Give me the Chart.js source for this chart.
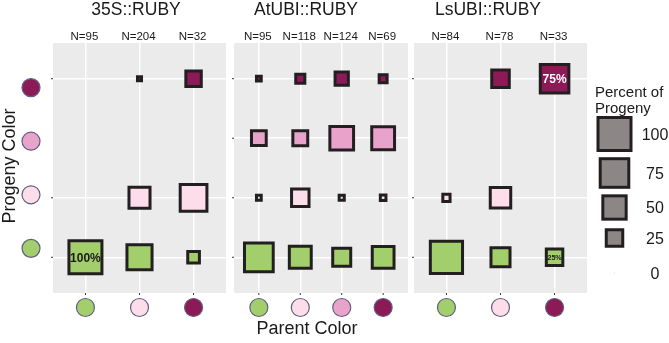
<!DOCTYPE html>
<html>
<head>
<meta charset="utf-8">
<script src="https://cdn.jsdelivr.net/npm/chart.js@4"></script>
<style>
	html, body { margin: 0; padding: 0; background: #fff; }
	#wrap { position: relative; width: 669px; height: 343px; overflow: hidden; }
	#wrap canvas { position: absolute; left: 0; top: 0; }
</style>
</head>
<body>
<div id="wrap">
	<canvas id="panel0" width="669" height="343"></canvas>
	<canvas id="panel1" width="669" height="343"></canvas>
	<canvas id="panel2" width="669" height="343"></canvas>
</div>
<script>
// Data
// Progeny colour levels, bottom row first
const progenyLevels = ['green', 'light pink', 'pink', 'dark red'];
const panelTitles = ['35S::RUBY', 'AtUBI::RUBY', 'LsUBI::RUBY'];

// 35S::RUBY
const parents35S = ['green', 'light pink', 'dark red'];
const n35S = [95, 204, 32];
const green35S = [100, 57.8, 12.5];
const lightPink35S = [0, 40.7, 65.6];
const pink35S = [0, 0, 0];
const darkRed35S = [0, 1.5, 21.9];

// AtUBI::RUBY
const parentsAt = ['green', 'light pink', 'pink', 'dark red'];
const nAt = [95, 118, 124, 69];
const greenAt = [75.8, 44.1, 29.8, 43.5];
const lightPinkAt = [2.1, 28.0, 2.4, 2.9];
const pinkAt = [20.0, 20.3, 51.6, 47.8];
const darkRedAt = [2.1, 7.6, 16.1, 5.8];

// LsUBI::RUBY
const parentsLs = ['green', 'light pink', 'dark red'];
const nLs = [84, 78, 33];
const greenLs = [95.2, 33.3, 25];
const lightPinkLs = [4.8, 38.5, 0];
const pinkLs = [0, 0, 0];
const darkRedLs = [0, 28.2, 75];

// Squares that carry a printed percentage: [panel, progeny level, parent column]
const labelled = [[0, 'green', 0], [2, 'dark red', 2], [2, 'green', 2]];

const legendValues = [100, 75, 50, 25, 0];

// Styles / layout
const FONT = '"Liberation Sans", Arial, Helvetica, sans-serif';
const levelFill = {
	'green': '#a2cf6b',
	'light pink': '#fcdde9',
	'pink': '#e8a3ca',
	'dark red': '#8c1a57'
};
const squareBorder = '#231f20';
const circleBorder = '#615f7f';
const panelBoxes = [
	{ left: 53, right: 226 },
	{ left: 234, right: 408 },
	{ left: 414, right: 587 }
];
const panelTop = 43;
const panelBottom = 293;
const titleCentres = [136, 306, 488];
const legendRows = [134, 173, 207.5, 238, 273];

const panels = [
	{ parents: parents35S, n: n35S, values: [green35S, lightPink35S, pink35S, darkRed35S] },
	{ parents: parentsAt, n: nAt, values: [greenAt, lightPinkAt, pinkAt, darkRedAt] },
	{ parents: parentsLs, n: nLs, values: [greenLs, lightPinkLs, pinkLs, darkRedLs] }
];

// Square side grows with the square root of the percentage (area scale)
function sideFor(p) {
	return 3.3 * Math.sqrt(p);
}

function text(ctx, str, x, y, font, color, align = 'center') {
	ctx.save();
	ctx.font = font;
	ctx.fillStyle = color;
	ctx.textAlign = align;
	ctx.textBaseline = 'alphabetic';
	ctx.fillText(str, x, y);
	ctx.restore();
}

function circle(ctx, x, y, fill) {
	ctx.save();
	ctx.beginPath();
	ctx.arc(x, y, 9, 0, Math.PI * 2);
	ctx.fillStyle = fill;
	ctx.fill();
	ctx.lineWidth = 1.2;
	ctx.strokeStyle = circleBorder;
	ctx.stroke();
	ctx.restore();
}

const decor = {
	id: 'decor',
	beforeDraw(chart) {
		const a = chart.chartArea;
		const ctx = chart.ctx;
		ctx.save();
		ctx.fillStyle = '#ebebeb';
		ctx.fillRect(a.left, a.top, a.right - a.left, a.bottom - a.top);
		ctx.restore();
	},
	afterDraw(chart) {
		const idx = chart.options.plugins.decor.index;
		const panel = panels[idx];
		const ctx = chart.ctx;
		const a = chart.chartArea;
		const xs = chart.scales.x;
		const ys = chart.scales.y;

		// Small tick marks outside the panel
		ctx.save();
		ctx.strokeStyle = '#333';
		ctx.lineWidth = 1;
		xs.ticks.forEach(t => {
			const px = xs.getPixelForValue(t.value);
			ctx.beginPath();
			ctx.moveTo(px, a.bottom);
			ctx.lineTo(px, a.bottom + 2);
			ctx.stroke();
		});
		ys.ticks.forEach(t => {
			const py = ys.getPixelForValue(t.value);
			ctx.beginPath();
			ctx.moveTo(a.left - 2, py);
			ctx.lineTo(a.left, py);
			ctx.stroke();
		});
		ctx.restore();

		// Strip title and N labels
		text(ctx, panelTitles[idx], titleCentres[idx], 15, '17.5px ' + FONT, '#1a1a1a');
		panel.n.forEach((n, i) => {
			text(ctx, 'N=' + n, xs.getPixelForValue(i + 1) - 1, 40, '11.5px ' + FONT, '#1a1a1a');
		});

		// Parent colour circles
		panel.parents.forEach((par, i) => {
			circle(ctx, xs.getPixelForValue(i + 1), 307.5, levelFill[par]);
		});

		// Percentage labels
		labelled.filter(l => l[0] === idx).forEach(l => {
			const li = progenyLevels.indexOf(l[1]);
			const p = panel.values[li][l[2]];
			const size = Math.min(12, sideFor(p) * 0.43);
			const px = xs.getPixelForValue(l[2] + 1);
			const py = ys.getPixelForValue(li + 1);
			text(ctx, p + '%', px, py + size * 0.36, 'bold ' + size + 'px ' + FONT,
				l[1] === 'dark red' ? '#ffffff' : '#1a1a1a');
		});

		if(idx === 0) {
			// Progeny colour circles, drawn slightly squeezed toward the middle
			const mid = (ys.getPixelForValue(1) + ys.getPixelForValue(4)) / 2;
			progenyLevels.forEach((lvl, li) => {
				const py = mid + (ys.getPixelForValue(li + 1) - mid) * 0.9;
				circle(ctx, 31, py, levelFill[lvl]);
			});

			text(ctx, 'Parent Color', 307, 334, '18px ' + FONT, '#1a1a1a');
			ctx.save();
			ctx.translate(15, 166);
			ctx.rotate(-Math.PI / 2);
			text(ctx, 'Progeny Color', 0, 0, '18px ' + FONT, '#1a1a1a');
			ctx.restore();
		}

		if(idx === 2) {
			// Size legend
			text(ctx, 'Percent of', 595, 97, '15px ' + FONT, '#1a1a1a', 'left');
			text(ctx, 'Progeny', 595, 113, '15px ' + FONT, '#1a1a1a', 'left');
			legendValues.forEach((v, i) => {
				const s = sideFor(v);
				const cy = legendRows[i];
				ctx.save();
				if(s > 0) {
					ctx.fillStyle = '#8d8687';
					ctx.fillRect(614.5 - s / 2, cy - s / 2, s, s);
					ctx.lineWidth = 3;
					ctx.strokeStyle = squareBorder;
					ctx.strokeRect(614.5 - s / 2, cy - s / 2, s, s);
				} else {
					ctx.fillStyle = '#d8d8d8';
					ctx.fillRect(614, cy - 0.5, 1, 1);
				}
				ctx.restore();
				text(ctx, String(v), 655, cy + 5.8, '16px ' + FONT, '#1a1a1a');
			});
		}
	}
};

function makePanel(idx) {
	const panel = panels[idx];
	const box = panelBoxes[idx];
	const cols = panel.parents.map((_, i) => i + 1);
	// Only rows that hold at least one square get a grid line
	const rows = progenyLevels.map((_, li) => li + 1)
		.filter(r => panel.values[r - 1].some(v => v > 0));

	const datasets = progenyLevels.map((lvl, li) => {
		const pts = panel.parents
			.map((par, i) => ({ x: i + 1, y: li + 1, p: panel.values[li][i] }))
			.filter(d => d.p > 0);
		const radii = pts.map(d => sideFor(d.p) / Math.SQRT2);
		return {
			label: lvl,
			data: pts,
			backgroundColor: levelFill[lvl],
			borderColor: squareBorder,
			borderWidth: 3,
			pointStyle: 'rect',
			pointRadius: radii,
			pointHoverRadius: radii,
			showLine: false
		};
	});

	return new Chart(document.getElementById('panel' + idx), {
		type: 'scatter',
		data: { datasets: datasets },
		options: {
			responsive: false,
			animation: false,
			devicePixelRatio: 1,
			events: [],
			layout: {
				padding: { left: box.left, right: 669 - box.right, top: panelTop, bottom: 343 - panelBottom }
			},
			plugins: {
				legend: { display: false },
				tooltip: { enabled: false },
				decor: { index: idx }
			},
			scales: {
				x: {
					type: 'linear',
					bounds: 'data',
					min: 0.4,
					max: cols.length + 0.6,
					afterBuildTicks: s => { s.ticks = cols.map(v => ({ value: v })); },
					ticks: { display: false },
					grid: { color: '#ffffff', lineWidth: 1.5, drawTicks: false },
					border: { display: false }
				},
				y: {
					type: 'linear',
					bounds: 'data',
					min: 0.4,
					max: 4.6,
					afterBuildTicks: s => { s.ticks = rows.map(v => ({ value: v })); },
					ticks: { display: false },
					grid: { color: '#ffffff', lineWidth: 1.5, drawTicks: false },
					border: { display: false }
				}
			}
		},
		plugins: [decor]
	});
}

window.onload = function() {
	for(let i = 0; i < panels.length; i++) {
		makePanel(i);
	}
};
</script>
</body>
</html>
